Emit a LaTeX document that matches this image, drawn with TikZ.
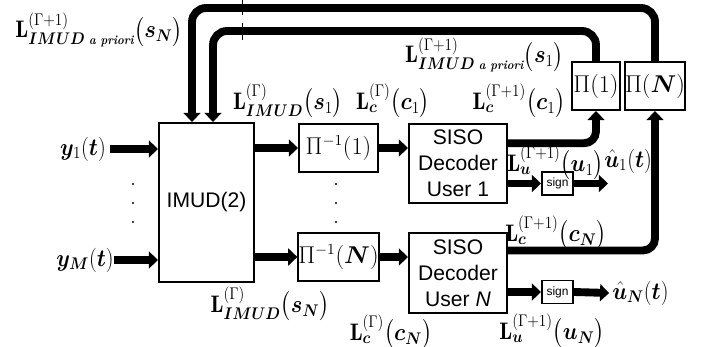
\documentclass[tikz,border=0pt]{standalone}
\usepackage{fontspec}
\setsansfont{Liberation Sans}
\usepackage{amsmath,bm,graphicx}
\usetikzlibrary{arrows.meta,calc}

\newcommand{\lblsize}{\fontsize{17}{20}\selectfont}
\newcommand{\lab}[1]{\scalebox{0.9}[1]{$#1$}}
\newcommand{\apri}{\text{\fontsize{9}{10}\selectfont\bfseries\itshape a priori}}

\begin{document}
\begin{tikzpicture}[x=0.025cm, y=-0.025cm,
  box/.style={draw, line width=1.4pt, inner sep=0pt, align=center,
    font=\sffamily\fontsize{15}{18.5}\selectfont},
  mbox/.style={box, font=\fontsize{16}{18}\selectfont},
  signbox/.style={box, font=\sffamily\fontsize{8.5}{10}\selectfont,
    minimum width=0.775cm, minimum height=0.575cm},
  bus/.style={line width=5.6pt, -{Triangle[width=12pt,length=6.5pt]}},
  feed/.style={bus, rounded corners=10pt},
  lbl/.style={inner sep=0pt, font=\lblsize}]
  \useasboundingbox (0,0) rectangle (701,347);

  % blocks
  \node[box, minimum width=2.375cm, minimum height=3.975cm] (imud) at (206.5,202.5) {IMUD(2)};
  \node[mbox, minimum width=1.975cm, minimum height=1.2cm] (pinv1) at (338.5,148) {$\Pi^{-1}(1)$};
  \node[mbox, minimum width=1.975cm, minimum height=1.2cm] (pinvN) at (338.5,257) {$\Pi^{-1}(\bm{N})$};
  \node[box, minimum width=2.45cm, minimum height=1.975cm] (siso1) at (458,163.5) {SISO\\Decoder\\User 1};
  \node[box, minimum width=2.45cm, minimum height=2cm] (sisoN) at (458,273) {SISO\\Decoder\\User \textit{N}};
  \node[signbox] (sign1) at (557.5,183.5) {sign};
  \node[signbox] (signN) at (557.5,292) {sign};
  \node[mbox, minimum width=1.2cm, minimum height=1.2cm] (pi1) at (596,86) {$\Pi(1)$};
  \node[mbox, minimum width=1.4cm, minimum height=1.2cm] (piN) at (655,86) {$\Pi(\bm{N})$};

  % labels
  \node[lbl] (ly1) at (83,149) {\lab{\bm{y}_1(\bm{t})}};
  \node[lbl] (lyM) at (85,260) {\lab{\bm{y}_{\bm{M}}(\bm{t})}};
  \node[lbl, anchor=east] (lapN) at (183,30) {\lab{\mathbf{L}^{(\Gamma+1)}_{\bm{IMUD}\;\apri}\bigl(\bm{s}_{\bm{N}}\bigr)}};
  \node[lbl, anchor=east] (lap1) at (564,55) {\lab{\mathbf{L}^{(\Gamma+1)}_{\bm{IMUD}\;\apri}\bigl(\bm{s}_1\bigr)}};
  \node[lbl] (lim1) at (288,101) {\lab{\mathbf{L}^{(\Gamma)}_{\bm{IMUD}}\bigl(\bm{s}_1\bigr)}};
  \node[lbl] (limN) at (270,304) {\lab{\mathbf{L}^{(\Gamma)}_{\bm{IMUD}}\bigl(\bm{s}_{\bm{N}}\bigr)}};
  \node[lbl] (lc1) at (393,101) {\lab{\mathbf{L}^{(\Gamma)}_{\bm{c}}\bigl(\bm{c}_1\bigr)}};
  \node[lbl] (lcN) at (391,332) {\lab{\mathbf{L}^{(\Gamma)}_{\bm{c}}\bigl(\bm{c}_{\bm{N}}\bigr)}};
  \node[lbl] (lcn1) at (519,101) {\lab{\mathbf{L}^{(\Gamma+1)}_{\bm{c}}\bigl(\bm{c}_1\bigr)}};
  \node[lbl] (lcnN) at (556,233) {\lab{\mathbf{L}^{(\Gamma+1)}_{\bm{c}}\bigl(\bm{c}_{\bm{N}}\bigr)}};
  \node[lbl, anchor=west] (lu1) at (507,163) {\lab{\mathbf{L}^{(\Gamma+1)}_{\bm{u}}\bigl(\bm{u}_1\bigr)}};
  \node[lbl] (luN) at (552,331) {\lab{\mathbf{L}^{(\Gamma+1)}_{\bm{u}}\bigl(\bm{u}_{\bm{N}}\bigr)}};
  \node[lbl, anchor=west] (uh1) at (604,161) {\lab{\hat{\bm{u}}_1(\bm{t})}};
  \node[lbl, anchor=west] (uhN) at (612,293) {\lab{\hat{\bm{u}}_{\bm{N}}(\bm{t})}};
  \coordinate (out1) at (608,183.5);

  % forward path
  \draw[bus] ([xshift=3pt]ly1.east) -- (ly1.east -| imud.west);
  \draw[bus] (lyM.east) -- (lyM.east -| imud.west);
  \draw[bus] (imud.east |- pinv1) -- (pinv1.west);
  \draw[bus] (imud.east |- pinvN) -- (pinvN.west);
  \draw[bus] (pinv1.east) -- (pinv1.east -| siso1.west);
  \draw[bus] (pinvN.east) -- (pinvN.east -| sisoN.west);
  \draw[bus] (siso1.east |- sign1) -- (sign1.west);
  \draw[bus] (sisoN.east |- signN) -- (signN.west);
  \draw[bus] (sign1.east) -- (out1);
  \draw[bus] (signN.east) -- ([xshift=-2pt]uhN.west);

  % feedback
  \coordinate (fbN) at (192,8);
  \coordinate (fb1) at (213,31);
  \draw[feed, rounded corners=8.5pt] ($(siso1.north east)!0.25!(siso1.south east)$) -| (pi1.south);
  \draw[feed, rounded corners=8.5pt] ($(sisoN.north east)!0.225!(sisoN.south east)$) -| (piN.south);
  \draw[feed] (piN.north) |- (fbN) -- (fbN |- imud.north);
  \draw[feed] (pi1.north) |- (fb1) -- (fb1 |- imud.north);
  \draw[line width=0.6pt] (242,0) -- (242,15) (242,23) -- (242,40);

  % dots
  \foreach \y in {184,203,222} {
    \fill (133,\y) circle (0.8pt);
    \fill (336,\y) circle (0.8pt);
  }
\end{tikzpicture}
\end{document}
